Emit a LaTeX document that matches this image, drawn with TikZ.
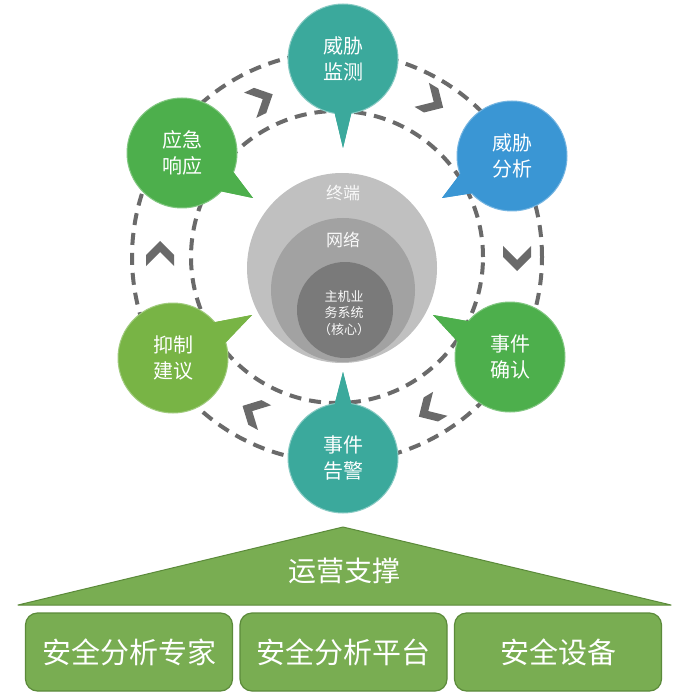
\documentclass[tikz,border=0pt]{standalone}
\usepackage{fontspec}
\setmainfont{Noto Sans CJK SC}
\usetikzlibrary{calc}
\definecolor{teal1}{HTML}{3BA99C}
\definecolor{blue1}{HTML}{3A96D4}
\definecolor{green1}{HTML}{4DAF4C}
\definecolor{green2}{HTML}{78B445}
\definecolor{olive1}{HTML}{79AD52}
\definecolor{olived}{HTML}{5B8A3A}
\definecolor{ringc}{HTML}{6A6A6A}
\definecolor{gA}{HTML}{C0C0C0}
\definecolor{gB}{HTML}{A2A2A2}
\definecolor{gC}{HTML}{7A7A7A}
\begin{document}
\begin{tikzpicture}[x=1pt,y=-1pt,
  ringline/.style={draw=ringc, line width=4pt, dash pattern=on 12pt off 8pt},
  chev/.style={fill=ringc},
  bubble/.style={circle, minimum size=110pt, inner sep=0pt, align=center, text=white,
    font=\fontsize{20}{26}\selectfont, line width=1pt},
  disc/.style={circle, inner sep=0pt},
  ctext/.style={text=white!95!gray, align=center},
  boxn/.style={draw=olived, fill=olive1, line width=1.2pt, rounded corners=12pt,
    minimum width=207pt, minimum height=78pt, text=white, font=\fontsize{29}{33}\selectfont}
]
\useasboundingbox (0,0) rectangle (688,700);
\fill[white] (0,0) rectangle (688,700);

% dashed rings
\coordinate (ctr) at (337,257);
\draw[ringline] (ctr) circle[radius=205pt];
\draw[ringline] (ctr) circle[radius=146pt];

% chevrons
\fill[chev, shift={(261,100)}, rotate=26] (-12pt,14pt) -- (-1pt,14pt) -- (13pt,0pt) -- (-1pt,-14pt) -- (-12pt,-14pt) -- (2pt,0pt) -- cycle;
\fill[chev, shift={(432,101)}, rotate=-31] (-12pt,14pt) -- (-1pt,14pt) -- (13pt,0pt) -- (-1pt,-14pt) -- (-12pt,-14pt) -- (2pt,0pt) -- cycle;
\fill[chev, shift={(517,258)}, rotate=-90] (-12pt,14pt) -- (-1pt,14pt) -- (13pt,0pt) -- (-1pt,-14pt) -- (-12pt,-14pt) -- (2pt,0pt) -- cycle;
\fill[chev, shift={(430,410)}, rotate=-149] (-12pt,14pt) -- (-1pt,14pt) -- (13pt,0pt) -- (-1pt,-14pt) -- (-12pt,-14pt) -- (2pt,0pt) -- cycle;
\fill[chev, shift={(254,412)}, rotate=152] (-12pt,14pt) -- (-1pt,14pt) -- (13pt,0pt) -- (-1pt,-14pt) -- (-12pt,-14pt) -- (2pt,0pt) -- cycle;
\fill[chev, shift={(160,254)}, rotate=90] (-12pt,14pt) -- (-1pt,14pt) -- (13pt,0pt) -- (-1pt,-14pt) -- (-12pt,-14pt) -- (2pt,0pt) -- cycle;

% center discs
\node[disc, fill=gA, minimum size=190pt] (dA) at (342,268) {};
\node[disc, fill=gB, minimum size=144pt] (dB) at (343,290) {};
\node[disc, fill=gC, minimum size=96pt] (dC) at (345,310) {};
\node[ctext, font=\fontsize{17}{20}\selectfont] (tA) at (343,193) {终端};
\node[ctext, font=\fontsize{17}{20}\selectfont] (tB) at (343,240) {网络};
\node[ctext, font=\fontsize{13}{16.5}\selectfont] (tC) at (344,313) {主机业\\务系统\\（核心）};

% bubble centres and tail tips
\coordinate (c1) at (343,59);
\coordinate (c2) at (512,156);
\coordinate (c6) at (182,153);
\coordinate (c3) at (510,357);
\coordinate (c5) at (173,358);
\coordinate (c4) at (343,458);
\coordinate (p1) at (343,148);
\coordinate (p2) at (442,198);
\coordinate (p6) at (253,198);
\coordinate (p3) at (433,315);
\coordinate (p5) at (252,315);
\coordinate (p4) at (343,372);

% tails
\fill[teal1] ($(c1)!52pt!10:(p1)$) -- (p1) -- ($(c1)!52pt!-10:(p1)$) -- (c1) -- cycle;
\fill[blue1] ($(c2)!52pt!14:(p2)$) -- (p2) -- ($(c2)!52pt!-14:(p2)$) -- (c2) -- cycle;
\fill[green1] ($(c6)!52pt!14:(p6)$) -- (p6) -- ($(c6)!52pt!-14:(p6)$) -- (c6) -- cycle;
\fill[green1] ($(c3)!52pt!14:(p3)$) -- (p3) -- ($(c3)!52pt!-14:(p3)$) -- (c3) -- cycle;
\fill[green2] ($(c5)!52pt!14:(p5)$) -- (p5) -- ($(c5)!52pt!-14:(p5)$) -- (c5) -- cycle;
\fill[teal1] ($(c4)!52pt!10:(p4)$) -- (p4) -- ($(c4)!52pt!-10:(p4)$) -- (c4) -- cycle;

% bubbles
\node[bubble, fill=teal1, draw=teal1!60!white] (b1) at (c1) {威胁\\监测};
\node[bubble, fill=blue1, draw=blue1!70!white] (b2) at (c2) {威胁\\分析};
\node[bubble, fill=green1, draw=green1!70!white] (b6) at (c6) {应急\\响应};
\node[bubble, fill=green1, draw=green1!70!white] (b3) at (c3) {事件\\确认};
\node[bubble, fill=green2, draw=green2!70!white] (b5) at (c5) {抑制\\建议};
\node[bubble, fill=teal1, draw=teal1!60!white] (b4) at (c4) {事件\\告警};

% tails over the outline, fill only
\fill[teal1] ($(c1)!52pt!10:(p1)$) -- (p1) -- ($(c1)!52pt!-10:(p1)$) -- cycle;
\fill[blue1] ($(c2)!52pt!14:(p2)$) -- (p2) -- ($(c2)!52pt!-14:(p2)$) -- cycle;
\fill[green1] ($(c6)!52pt!14:(p6)$) -- (p6) -- ($(c6)!52pt!-14:(p6)$) -- cycle;
\fill[green1] ($(c3)!52pt!14:(p3)$) -- (p3) -- ($(c3)!52pt!-14:(p3)$) -- cycle;
\fill[green2] ($(c5)!52pt!14:(p5)$) -- (p5) -- ($(c5)!52pt!-14:(p5)$) -- cycle;
\fill[teal1] ($(c4)!52pt!10:(p4)$) -- (p4) -- ($(c4)!52pt!-10:(p4)$) -- cycle;

% roof
\coordinate (rl) at (18,605);
\coordinate (ra) at (343,527);
\coordinate (rr) at (671,605);
\draw[draw=olived, fill=olive1, line width=1pt, line join=round] (rl) -- (ra) -- (rr) -- cycle;
\node[text=white, font=\fontsize{28}{32}\selectfont] (roof) at (344,571) {运营支撑};

% boxes
\node[boxn] (x1) at (129,652) {安全分析专家};
\node[boxn] (x2) at (343.5,652) {安全分析平台};
\node[boxn] (x3) at (558,652) {安全设备};
\end{tikzpicture}
\end{document}
